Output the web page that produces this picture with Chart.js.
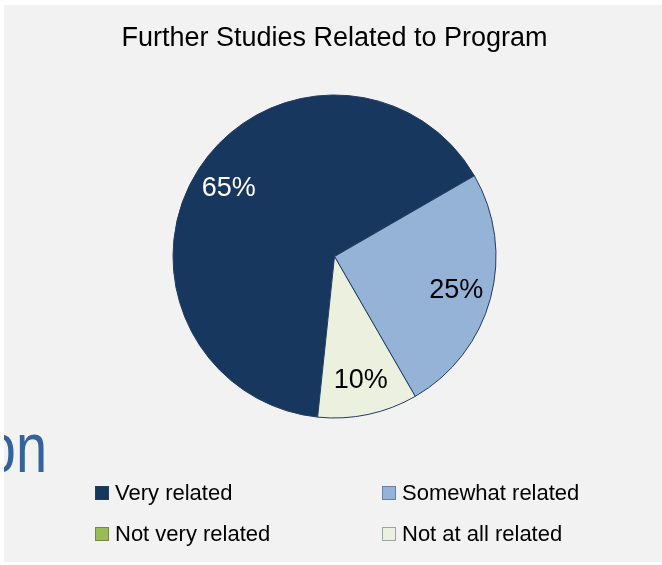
<!DOCTYPE html>
<html>
<head>
<meta charset="utf-8">
<script src="https://cdn.jsdelivr.net/npm/chart.js@4"></script>
<style>
  html, body { margin: 0; padding: 0; background: #ffffff; }
  #panel { position: absolute; left: 4px; top: 5px; width: 658px; height: 557px; background: #f2f2f2; }
  canvas { display: block; }
</style>
</head>
<body>
<div id="panel"><canvas id="myChart" width="658" height="557"></canvas></div>
<script>
// chart data
const titleText = "Further Studies Related to Program";
const categories = ["Very related", "Somewhat related", "Not very related", "Not at all related"];
const percentValues = [65, 25, 0, 10];
const sliceColors = ["#17375E", "#95B3D7", "#9BBB59", "#EBF1DE"];
const labelColors = ["#ffffff", "#000000", "#000000", "#000000"];

// percentage labels inside the slices
const sliceLabels = {
  id: "sliceLabels",
  afterDatasetsDraw(chart) {
    const ctx = chart.ctx;
    const arcs = chart.getDatasetMeta(0).data;
    ctx.save();
    ctx.font = "27px 'Liberation Sans', Arial, sans-serif";
    ctx.textAlign = "center";
    ctx.textBaseline = "middle";
    arcs.forEach((arc, i) => {
      if (!percentValues[i]) return;
      const mid = (arc.startAngle + arc.endAngle) / 2;
      const r = arc.outerRadius * 0.78;
      ctx.fillStyle = labelColors[i];
      ctx.fillText(percentValues[i] + "%", arc.x + Math.cos(mid) * r, arc.y + Math.sin(mid) * r + 1);
    });
    ctx.restore();
  },
};

// two column legend under the pie, plus the stray slide text behind it
const gridLegend = {
  id: "gridLegend",
  afterDraw(chart) {
    const ctx = chart.ctx;
    ctx.save();
    ctx.font = "70px 'Liberation Sans', Arial, sans-serif";
    ctx.fillStyle = "#34639B";
    ctx.textBaseline = "alphabetic";
    ctx.scale(0.8, 1);
    ctx.fillText("on", -24, 467);
    ctx.restore();

    ctx.save();
    ctx.font = "22px 'Liberation Sans', Arial, sans-serif";
    ctx.textBaseline = "alphabetic";
    const colX = [91, 378];
    const rowY = [495, 536];
    categories.forEach((name, i) => {
      const x = colX[i % 2];
      const y = rowY[Math.floor(i / 2)];
      ctx.fillStyle = sliceColors[i];
      ctx.fillRect(x, y - 14, 14, 14);
      ctx.strokeStyle = "rgba(60,70,80,0.45)";
      ctx.lineWidth = 1;
      ctx.strokeRect(x + 0.5, y - 13.5, 13, 13);
      ctx.fillStyle = "#000000";
      ctx.fillText(name, x + 20, y);
    });
    ctx.restore();
  },
};

const ctx = document.getElementById("myChart").getContext("2d");
const myChart = new Chart(ctx, {
  type: "pie",
  data: {
    labels: categories,
    datasets: [
      {
        data: percentValues,
        backgroundColor: sliceColors,
        borderColor: "#1F3B5E",
        borderWidth: 1,
      },
    ],
  },
  options: {
    responsive: false,
    animation: false,
    events: [],
    rotation: 186,
    radius: 161.5,
    layout: {
      padding: { top: 0, left: 3, right: 0, bottom: 144 },
    },
    plugins: {
      legend: { display: false },
      tooltip: { enabled: false },
      title: {
        display: true,
        text: titleText,
        color: "#000000",
        font: { family: "'Liberation Sans', Arial, sans-serif", size: 27, weight: "normal", lineHeight: 1.2 },
        padding: { top: 17.3, bottom: 40.3 },
      },
    },
  },
  plugins: [sliceLabels, gridLegend],
});
</script>
</body>
</html>
